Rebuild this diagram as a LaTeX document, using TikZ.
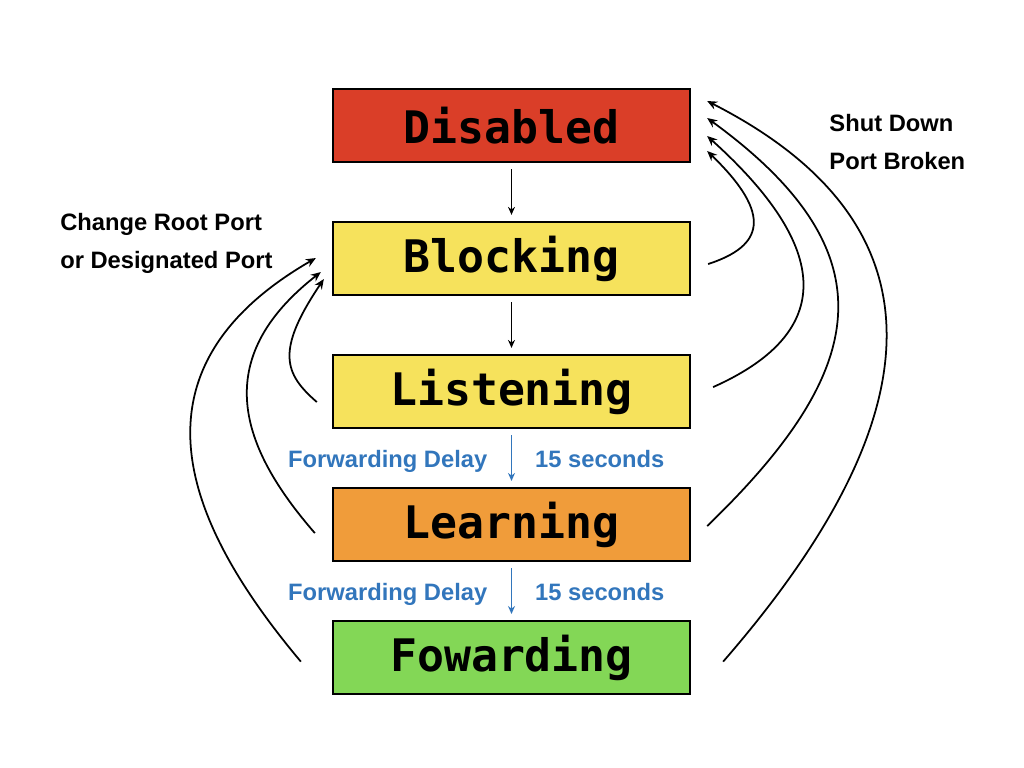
\documentclass[tikz,border=0pt]{standalone}
\usepackage{fontspec}
\setmainfont{Liberation Sans}
\newfontfamily\statemono{DejaVu Sans Mono}
\usepackage{tikz}
\usetikzlibrary{arrows.meta,positioning}
\usepackage{xcolor}
\definecolor{stred}{RGB}{218,62,40}
\definecolor{styellow}{RGB}{246,226,92}
\definecolor{storange}{RGB}{240,156,58}
\definecolor{stgreen}{RGB}{131,215,86}
\definecolor{stblue}{RGB}{50,118,188}
\tikzstyle{arrow} = [line width=1pt,->,>={Stealth[length=2mm,width=1.7mm]}]
\tikzstyle{down} = [line width=0.8pt,->,>={Stealth[length=1.6mm,width=1.4mm]},shorten <=0.12cm,shorten >=0.12cm]
\tikzstyle{state} = [rectangle, minimum width=7.14cm, minimum height=1.46cm, text centered, draw=black, line width=1.3pt, font=\statemono\bfseries\fontsize{25.5}{28}\selectfont]
\tikzstyle{note} = [align=left, inner sep=0pt, font=\bfseries\fontsize{13.5}{21.5}\selectfont]
\tikzstyle{delaytext} = [inner sep=0pt, yshift=-0.08cm, text height=1.5ex, text depth=0.4ex, color=stblue, font=\bfseries\fontsize{13.5}{16}\selectfont]

\begin{document}
\begin{tikzpicture}[node distance=1.155cm]
\useasboundingbox (0,0) rectangle (20.48,-15.36);
% port states
\node (disabled) [state, fill=stred] at (10.23,-2.51) {Disabled};
\node (blocking) [state, fill=styellow, below=of disabled] {Blocking};
\node (listening) [state, fill=styellow, below=of blocking] {Listening};
\node (learning) [state, fill=storange, below=of listening] {Learning};
\node (fowarding) [state, fill=stgreen, below=of learning] {Fowarding};

% state changes
\draw[down] (disabled) -- (blocking);
\draw[down] (blocking) -- (listening);
\draw[down, stblue] (listening) --
  node[delaytext, left=0.47cm] {Forwarding Delay}
  node[delaytext, right=0.46cm] {15 seconds} (learning);
\draw[down, stblue] (learning) --
  node[delaytext, left=0.47cm] {Forwarding Delay}
  node[delaytext, right=0.46cm] {15 seconds} (fowarding);

% back to disabled
\draw[arrow] ([xshift=0.34cm,yshift=-0.11cm]blocking.east) to[out=18,in=-44,out distance=1.15cm,in distance=1.85cm] ([xshift=0.32cm,yshift=-0.51cm]disabled.east);
\draw[arrow] ([xshift=0.44cm,yshift=0.09cm]listening.east) to[out=24,in=-42,out distance=2.52cm,in distance=3.56cm] ([xshift=0.32cm,yshift=-0.21cm]disabled.east);
\draw[arrow] ([xshift=0.32cm,yshift=-0.03cm]learning.east) to[out=44,in=-36,out distance=4.36cm,in distance=4.7cm] ([xshift=0.32cm,yshift=0.15cm]disabled.east);
\draw[arrow] ([xshift=0.64cm,yshift=-0.08cm]fowarding.east) to[out=49,in=-27,out distance=5.44cm,in distance=6.16cm] ([xshift=0.32cm,yshift=0.49cm]disabled.east);

% back to blocking
\draw[arrow] ([xshift=-0.3cm,yshift=-0.21cm]listening.west) to[out=139,in=-124,out distance=0.86cm,in distance=1.74cm] ([xshift=-0.16cm,yshift=-0.41cm]blocking.west);
\draw[arrow] ([xshift=-0.34cm,yshift=-0.17cm]learning.west) to[out=131,in=-142,out distance=2.28cm,in distance=2.84cm] ([xshift=-0.22cm,yshift=-0.27cm]blocking.west);
\draw[arrow] ([xshift=-0.62cm,yshift=-0.08cm]fowarding.west) to[out=130,in=-150,out distance=3.48cm,in distance=4.58cm] ([xshift=-0.32cm,yshift=0.01cm]blocking.west);

\node (shutdown) [note, anchor=west] at ([xshift=2.76cm,yshift=-0.33cm]disabled.east) {Shut Down\\Port Broken};
\node (rootport) [note, anchor=east] at ([xshift=-1.18cm,yshift=0.3cm]blocking.west) {Change Root Port\\or Designated Port};
\end{tikzpicture}
\end{document}
